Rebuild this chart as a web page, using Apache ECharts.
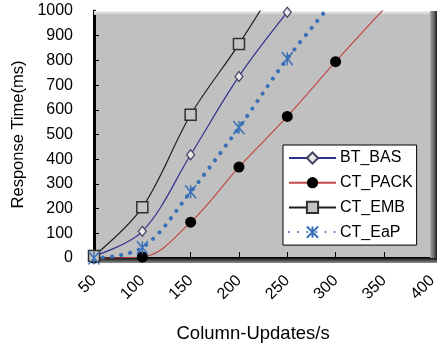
<!DOCTYPE html>
<html>
<head>
<meta charset="utf-8">
<script src="https://cdn.jsdelivr.net/npm/echarts@6/dist/echarts.min.js"></script>
<style>html,body{margin:0;padding:0;background:#fff;}#c{width:440px;height:350px;}</style>
</head>
<body>
<div id="c"></div>
<script>
const xValues = [50, 100, 150, 200, 250, 300, 350];
const btBas  = [8, 108, 418, 735, 995, null, null];
const ctPack = [0, 4, 145, 368, 573, 795, 1008];
const ctEmb  = [8, 205, 580, 866, 1180, null, null];
const ctEaP  = [0, 42, 268, 528, 807, 1050, null];
const seriesNames = ['BT_BAS', 'CT_PACK', 'CT_EMB', 'CT_EaP'];

function pairs(arr) {
  const out = [];
  arr.forEach((v, i) => { if (v !== null) out.push([xValues[i], v]); });
  return out;
}

const font = 'Liberation Sans, Arial, sans-serif';
const chart = echarts.init(document.getElementById('c'), null, {renderer: 'canvas'});

const gL = 94, gT = 11, gR = 437, gB = 258;

chart.setOption({
  animation: false,
  backgroundColor: '#fff',
  textStyle: {fontFamily: font},
  grid: {left: gL, top: gT, right: 440 - gR, bottom: 350 - gB, show: true, backgroundColor: '#c0c0c0', borderWidth: 0},
  graphic: [
    {type: 'rect', z: 1, shape: {x: gL, y: gT, width: gR - gL, height: 4},
     style: {fill: new echarts.graphic.LinearGradient(0, 0, 0, 1, [{offset: 0, color: '#f4f4f4'}, {offset: 1, color: '#c0c0c0'}])}},
    {type: 'rect', z: 1, shape: {x: gR - 7, y: gT, width: 7, height: gB - gT + 5},
     style: {fill: new echarts.graphic.LinearGradient(0, 0, 1, 0, [{offset: 0, color: '#a8a8a8'}, {offset: 0.5, color: '#707070'}, {offset: 1, color: '#202020'}])}},
    {type: 'rect', z: 1, shape: {x: gL, y: gB, width: gR - gL, height: 5},
     style: {fill: new echarts.graphic.LinearGradient(0, 0, 0, 1, [{offset: 0, color: '#101010'}, {offset: 1, color: '#909090'}])}}
  ],
  legend: {
    data: seriesNames,
    orient: 'vertical',
    left: 283, top: 145,
    padding: [5, 4, 5, 5],
    itemWidth: 47, itemHeight: 14, itemGap: 8.7,
    backgroundColor: '#fff', borderColor: '#000', borderWidth: 1,
    textStyle: {fontFamily: font, fontSize: 16, color: '#000', padding: [0, 0, 0, -1]},
    z: 10
  },
  xAxis: {
    type: 'value', min: 50, max: 400, interval: 50,
    name: 'Column-Updates/s', nameLocation: 'middle', nameGap: 66,
    nameTextStyle: {fontFamily: font, fontSize: 18.5, color: '#000', padding: [0, 20, 0, 0]},
    axisLine: {show: true, lineStyle: {color: '#000', width: 2}},
    axisTick: {show: true, inside: true, length: 6, lineStyle: {color: '#000', width: 1}},
    axisLabel: {rotate: 45, margin: 20, fontFamily: font, fontSize: 16, color: '#000'},
    splitLine: {show: false}
  },
  yAxis: {
    type: 'value', min: 0, max: 1000, interval: 100,
    name: 'Response Time(ms)', nameLocation: 'middle', nameGap: 62,
    nameTextStyle: {fontFamily: font, fontSize: 16.5, color: '#000'},
    axisLine: {show: true, lineStyle: {color: '#000', width: 3}},
    axisTick: {show: true, inside: true, length: 5, lineStyle: {color: '#000', width: 1}},
    axisLabel: {margin: 21, fontFamily: font, fontSize: 16, color: '#000', formatter: v => String(v)},
    splitLine: {show: false}
  },
  series: [
    {name: seriesNames[0], type: 'line', smooth: 0.35, data: pairs(btBas), z: 3,
     lineStyle: {color: '#303090', width: 1.2},
     symbol: 'diamond', symbolSize: [8, 10],
     itemStyle: {color: '#e8e8e8', borderColor: '#404060', borderWidth: 1.2}},
    {name: seriesNames[1], type: 'line', smooth: 0.35, data: pairs(ctPack), z: 3,
     lineStyle: {color: '#c04848', width: 1.2},
     symbol: 'circle', symbolSize: 11,
     itemStyle: {color: '#000', borderColor: '#000', borderWidth: 0}},
    {name: seriesNames[2], type: 'line', smooth: 0.35, data: pairs(ctEmb), z: 3,
     lineStyle: {color: '#202020', width: 1.2},
     symbol: 'rect', symbolSize: 11,
     itemStyle: {color: '#c4c4c4', borderColor: '#303030', borderWidth: 1.5}},
    {name: seriesNames[3], type: 'line', smooth: 0.35, data: pairs(ctEaP), z: 3,
     lineStyle: {color: '#3a70b8', width: 4, type: [0.1, 9], cap: 'round'},
     symbol: 'path://M0,0L10,12M10,0L0,12M5,0L5,12', symbolSize: [11, 13],
     itemStyle: {color: '#3a70b8', borderColor: '#3a70b8', borderWidth: 1.5}}
  ]
});
</script>
</body>
</html>
